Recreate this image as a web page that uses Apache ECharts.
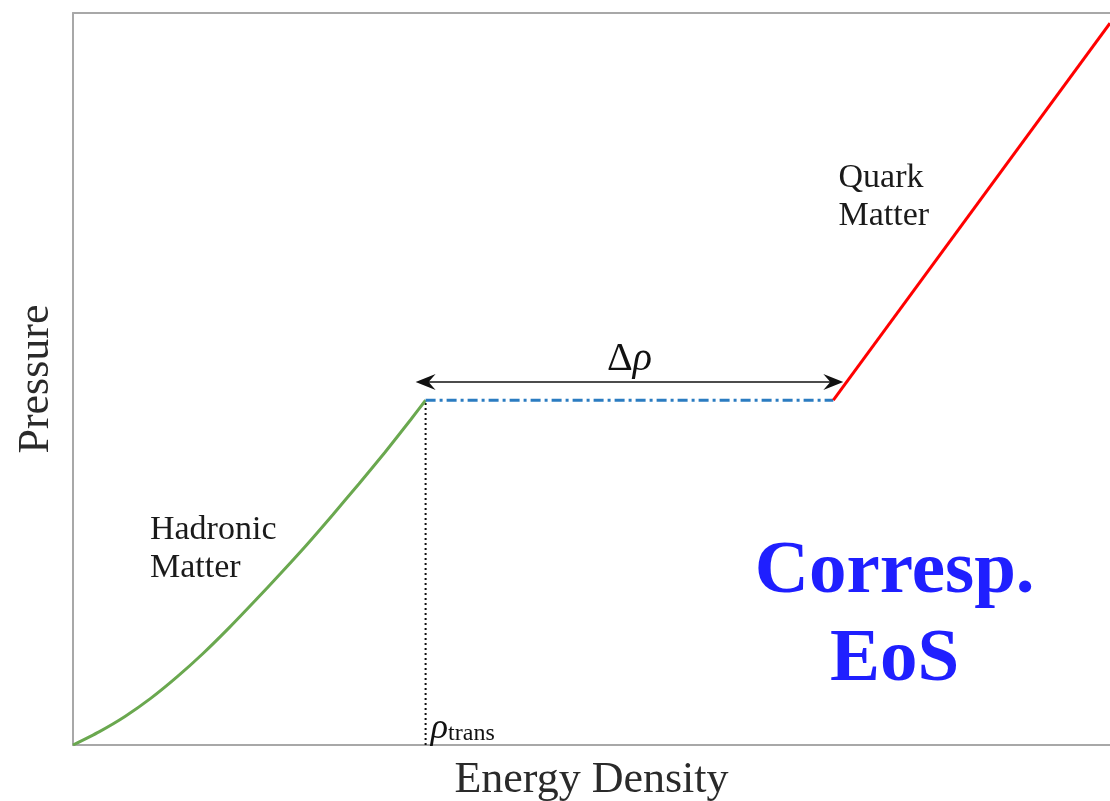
<!DOCTYPE html>
<html><head><meta charset="utf-8">
<script src="https://cdn.jsdelivr.net/npm/echarts@6/dist/echarts.min.js"></script>
<style>html,body{margin:0;padding:0;background:#fff}#c{width:1110px;height:801px}</style>
</head><body><div id="c"></div>
<script>
// Hadronic (green) branch: energy density vs pressure (arbitrary units)
const hadronicX = [0, 0.25, 0.5, 0.75, 1.0, 1.25, 1.5, 1.75, 2.0, 2.25, 2.5, 2.75, 3.0, 3.25, 3.39];
const hadronicY = [0, 0.18, 0.39, 0.64, 0.93, 1.25, 1.6, 1.97, 2.35, 2.74, 3.15, 3.57, 4.0, 4.45, 4.71];
// Phase transition plateau (blue dash-dot)
const plateauX = [3.39, 7.31];
const plateauY = [4.71, 4.71];
// Quark (red) branch
const quarkX = [7.31, 9.97];
const quarkY = [4.71, 9.86];
// rho_trans marker
const transX = 3.39;
// Delta rho arrow level
const arrowY = 4.96;
const xName = 'Energy Density';
const yName = 'Pressure';

const serif = '"Liberation Serif", "DejaVu Serif", serif';
const zip = (a, b) => a.map((v, i) => [v, b[i]]);
const axisCol = '#a8a8a8';

const chart = echarts.init(document.getElementById('c'));
const hidden = { axisTick: { show: false }, axisLabel: { show: false }, splitLine: { show: false } };
chart.setOption({
  animation: false,
  backgroundColor: '#fff',
  grid: { left: 73, top: 13, right: 0, bottom: 56, show: false, containLabel: false, outerBoundsMode: 'none' },
  xAxis: [
    Object.assign({
      type: 'value', min: 0, max: 9.97, position: 'bottom',
      name: xName, nameLocation: 'middle', nameGap: 13,
      nameTextStyle: { fontFamily: serif, fontSize: 44, color: '#2a2a2a' },
      axisLine: { show: true, onZero: false, lineStyle: { color: axisCol, width: 2 } }
    }, hidden),
    Object.assign({
      type: 'value', min: 0, max: 9.97, position: 'top',
      axisLine: { show: true, onZero: false, lineStyle: { color: axisCol, width: 2 } }
    }, hidden)
  ],
  yAxis: Object.assign({
    type: 'value', min: 0, max: 10,
    name: yName, nameLocation: 'middle', nameGap: 15,
    nameTextStyle: { fontFamily: serif, fontSize: 44, color: '#2a2a2a' },
    axisLine: { show: true, onZero: false, lineStyle: { color: axisCol, width: 2 } }
  }, hidden),
  series: [
    {
      type: 'line', data: zip(hadronicX, hadronicY), symbol: 'none', smooth: 0.2,
      lineStyle: { color: '#6aa84f', width: 3 }, z: 3
    },
    {
      type: 'line', data: [[transX, 0], [transX, hadronicY[hadronicY.length - 1]]], symbol: 'none',
      lineStyle: { color: '#111', width: 2, type: [2, 3] }, z: 2
    },
    {
      type: 'line', data: zip(plateauX, plateauY), symbol: 'none',
      lineStyle: { color: '#2b7cc1', width: 3, type: [10, 4, 3, 4] }, z: 3,
      markLine: {
        silent: true,
        symbol: ['path://M0,0 L9,20 L0,13 L-9,20 Z', 'path://M0,0 L9,20 L0,13 L-9,20 Z'],
        symbolSize: [16, 20],
        lineStyle: { color: '#111', width: 1.5, type: 'solid' },
        label: {
          show: true, position: 'middle', formatter: '{d|Δ}{r|ρ}', distance: 2,
          rich: {
            d: { fontFamily: serif, fontSize: 40, color: '#111' },
            r: { fontFamily: serif, fontSize: 40, fontStyle: 'italic', color: '#111' }
          }
        },
        data: [[{ coord: [plateauX[0], arrowY] }, { coord: [plateauX[1], arrowY] }]]
      }
    },
    {
      type: 'line', data: zip(quarkX, quarkY), symbol: 'none',
      lineStyle: { color: '#ff0000', width: 3 }, z: 3
    },
    {
      type: 'scatter', symbolSize: 0, silent: true, z: 5,
      itemStyle: { opacity: 1 },
      data: [
        { value: [transX + 0.05, 0.23], label: { show: true, opacity: 1, position: 'right', distance: 0, formatter: '{r|ρ}{s|trans}',
          rich: { r: { fontFamily: serif, fontSize: 36, fontStyle: 'italic', color: '#111' },
                  s: { fontFamily: serif, fontSize: 24, color: '#111', padding: [12, 0, 0, 0] } } } },
        { value: [0.74, 2.68], label: { show: true, opacity: 1, position: 'right', distance: 0, align: 'left',
          formatter: 'Hadronic\nMatter', fontFamily: serif, fontSize: 34, lineHeight: 38, color: '#1a1a1a' } },
        { value: [7.36, 7.49], label: { show: true, opacity: 1, position: 'right', distance: 0, align: 'left',
          formatter: 'Quark\nMatter', fontFamily: serif, fontSize: 34, lineHeight: 38, color: '#1a1a1a' } },
        { value: [7.9, 1.76], label: { show: true, opacity: 1, position: 'inside', align: 'center',
          formatter: 'Corresp.\nEoS', fontFamily: serif, fontSize: 75, fontWeight: 'bold', lineHeight: 88, color: '#1f1fff' } }
      ]
    }
  ]
});
</script></body></html>
